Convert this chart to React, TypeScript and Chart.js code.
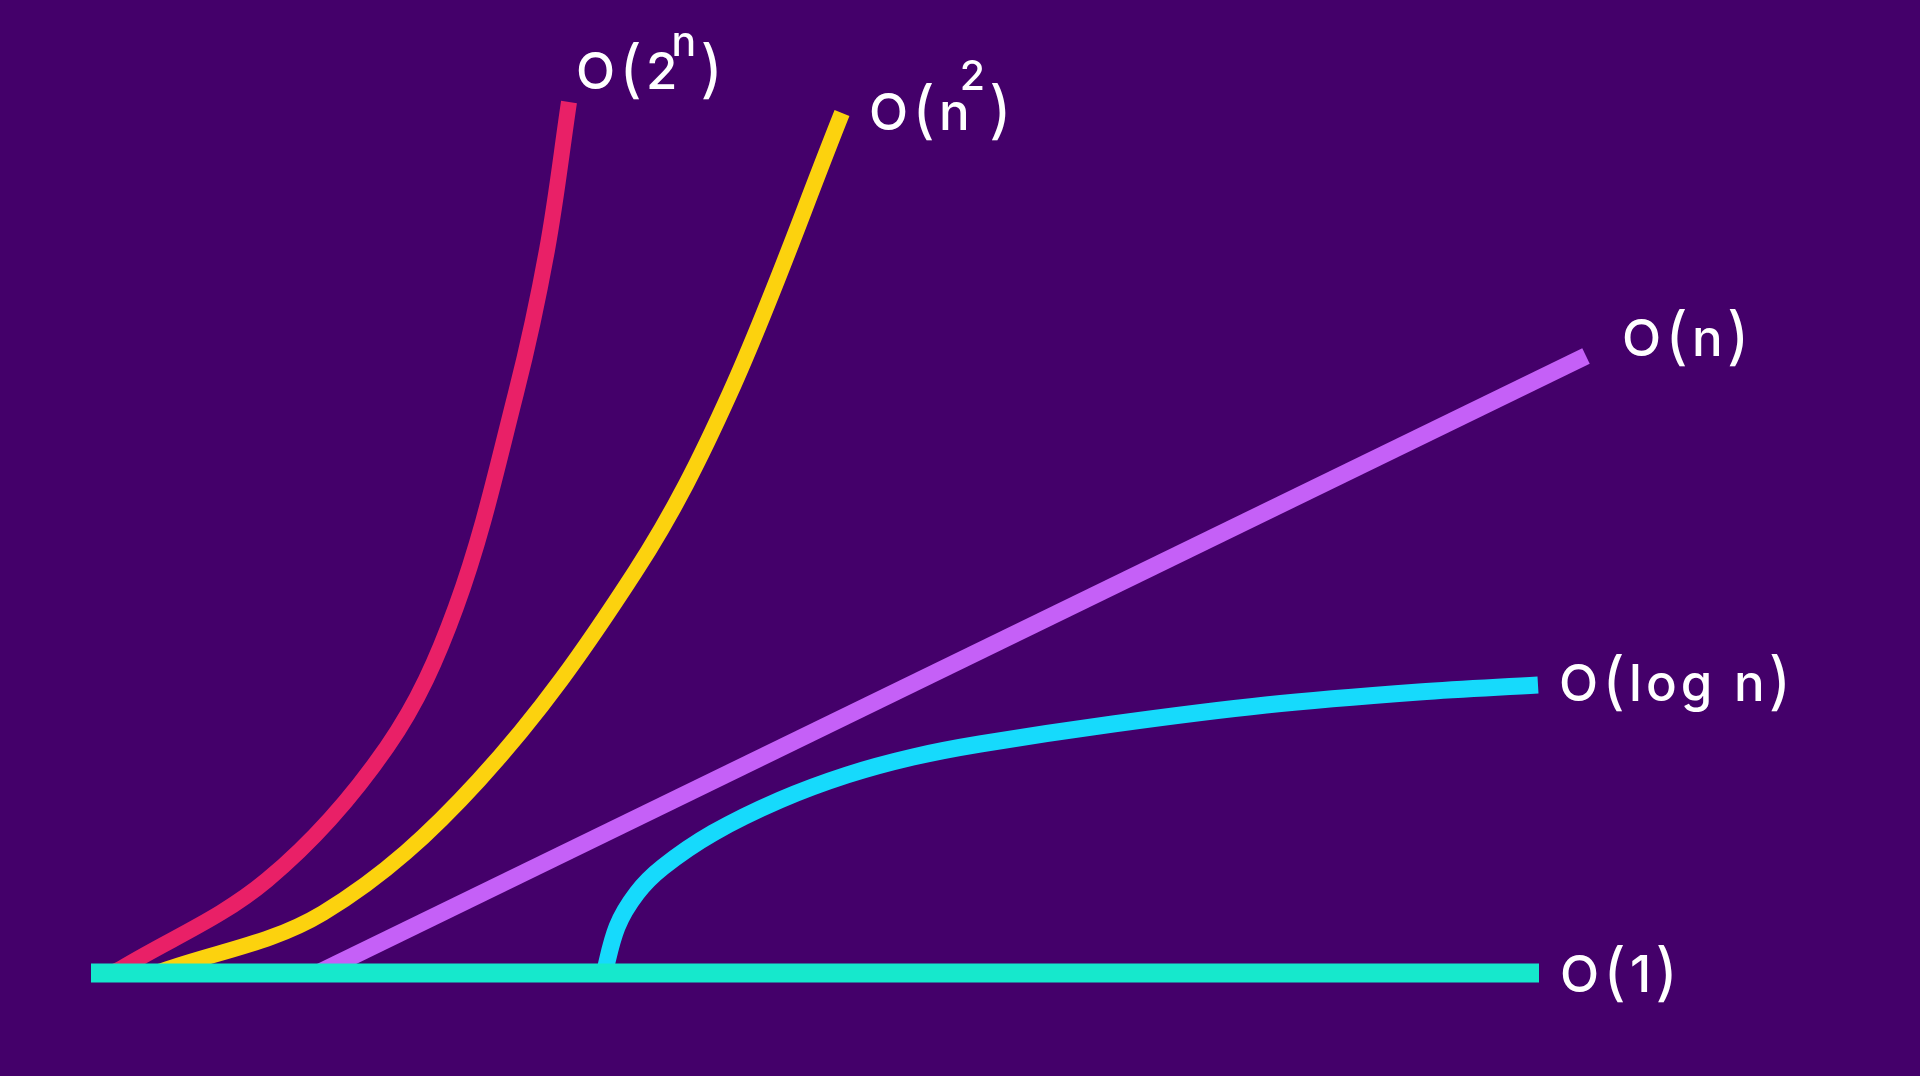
import React, { useEffect, useRef } from "react";
import { Chart, registerables } from "chart.js";

Chart.register(...registerables);

const constX = [91, 1539];
const constY = [103, 103];

const logX = [603, 617, 637, 663, 713, 780, 847, 913, 980, 1113, 1266, 1419, 1538];
const logY = [98, 149, 183, 209, 243, 276, 301, 319, 332, 352, 371, 384, 391];

const linX = [316, 1586];
const linY = [102, 720];

const quadX = [150, 162, 323, 479, 635, 730, 842];
const quadY = [102, 105, 163, 296, 504, 683, 963];

const expX = [112, 122, 267, 387, 456, 516, 547, 569];
const expY = [103, 108, 196, 329, 469, 683, 826, 974];

const seriesNames = ["O(1)", "O(log n)", "O(n)", "O(n^2)", "O(2^n)"];
const seriesColors = ["#16E8CC", "#16DAFC", "#C560F7", "#FCD20E", "#E92067"];

// label pieces: n = normal text, p = parenthesis, s = superscript
type Part = { t: string; k: "n" | "p" | "s"; kern?: number; raise?: number };
const labelParts: Part[][] = [
  [{ t: "O", k: "n" }, { t: "(", k: "p" }, { t: "1", k: "n" }, { t: ")", k: "p" }],
  [{ t: "O", k: "n" }, { t: "(", k: "p" }, { t: "log n", k: "n" }, { t: ")", k: "p" }],
  [{ t: "O", k: "n" }, { t: "(", k: "p" }, { t: "n", k: "n" }, { t: ")", k: "p" }],
  [
    { t: "O", k: "n" },
    { t: "(", k: "p" },
    { t: "n", k: "n" },
    { t: "2", k: "s", kern: -14, raise: 40 },
    { t: ")", k: "p" },
  ],
  [
    { t: "O", k: "n" },
    { t: "(", k: "p" },
    { t: "2", k: "n" },
    { t: "n", k: "s", kern: -10, raise: 33 },
    { t: ")", k: "p" },
  ],
];
const labelOffsets = [
  [21, 19],
  [21, 16],
  [36, 0],
  [27, 17],
  [7, -13],
];

const toPoints = (xs: number[], ys: number[]) => xs.map((x, i) => ({ x, y: ys[i] }));

export default function App() {
  const ref = useRef<HTMLCanvasElement>(null);
  useEffect(() => {
    if (!ref.current) return;
    const FAMILY = "Inter, Roboto, sans-serif";
    const fonts = {
      n: `500 51px ${FAMILY}`,
      p: `400 63px ${FAMILY}`,
      s: `500 41px ${FAMILY}`,
    };
    const labelPlugin = {
      id: "endLabels",
      afterDatasetsDraw(chart: any) {
        const ctx = chart.ctx as CanvasRenderingContext2D;
        ctx.save();
        ctx.fillStyle = "#FFFFFF";
        ctx.textBaseline = "alphabetic";
        ctx.textAlign = "left";
        chart.data.datasets.forEach((ds: any, i: number) => {
          const meta = chart.getDatasetMeta(i);
          const last = meta.data[meta.data.length - 1];
          let x = last.x + labelOffsets[i][0];
          const base = last.y + labelOffsets[i][1];
          labelParts[i].forEach((p) => {
            ctx.font = fonts[p.k];
            (ctx as any).letterSpacing = "4px";
            x += p.kern || 0;
            let y = base;
            if (p.k === "s") y = base - (p.raise || 36);
            if (p.k === "p") y = base + 2;
            ctx.fillText(p.t, x, y);
            x += ctx.measureText(p.t).width;
          });
        });
        ctx.restore();
      },
    };
    const sets = [
      toPoints(constX, constY),
      toPoints(logX, logY),
      toPoints(linX, linY),
      toPoints(quadX, quadY),
      toPoints(expX, expY),
    ];
    const widths = [19, 17, 17, 16, 16];
    const chart = new Chart(ref.current, {
      type: "line",
      data: {
        datasets: sets.map((d, i) => ({
          label: seriesNames[i],
          data: d,
          borderColor: seriesColors[i],
          backgroundColor: seriesColors[i],
          borderWidth: widths[i],
          borderCapStyle: "butt",
          borderJoinStyle: "round",
          pointRadius: 0,
          pointHoverRadius: 0,
          fill: false,
          tension: 0.35,
          clip: false,
          order: i,
        })),
      },
      options: {
        animation: false,
        responsive: false,
        devicePixelRatio: 1,
        layout: { padding: 0 },
        plugins: { legend: { display: false }, tooltip: { enabled: false } },
        events: [],
        scales: {
          x: { type: "linear", min: 0, max: 1920, display: false },
          y: { type: "linear", min: 0, max: 1076, display: false },
        },
      },
      plugins: [labelPlugin],
    } as any);
    return () => chart.destroy();
  }, []);
  return (
    <div
      style={{
        position: "fixed",
        left: 0,
        top: 0,
        width: 1920,
        height: 1076,
        background: "#44006A",
      }}
    >
      <canvas ref={ref} width={1920} height={1076} />
    </div>
  );
}
